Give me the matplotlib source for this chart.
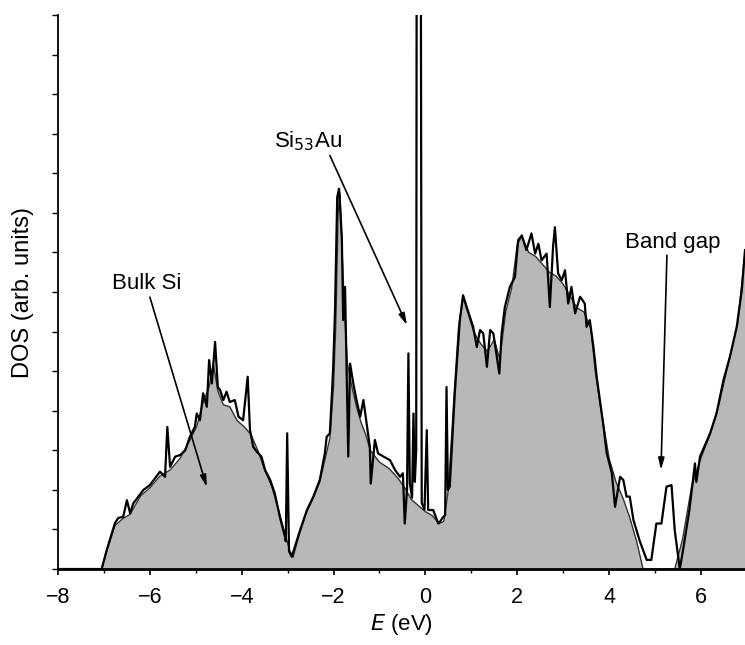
import matplotlib
matplotlib.use("Agg")
import matplotlib.pyplot as plt

plt.rcParams['font.family'] = ['Liberation Sans', 'DejaVu Sans']

# Bulk Si DOS (grey filled area)
bulk_e = [-8.0, -7.05, -6.94, -6.76, -6.58, -6.43, -6.2, -6.0, -5.78, -5.56,
          -5.34, -5.13, -4.98, -4.84, -4.71, -4.62, -4.52, -4.4, -4.26, -4.1,
          -3.95, -3.8, -3.65, -3.5, -3.35, -3.2, -3.06, -2.95, -2.88, -2.75,
          -2.6, -2.44, -2.3, -2.18, -2.08, -2.0, -1.95, -1.9, -1.86, -1.82,
          -1.76, -1.7, -1.6, -1.5, -1.4, -1.3, -1.2, -1.0, -0.8, -0.6,
          -0.45, -0.3, -0.15, 0.0, 0.15, 0.3, 0.4, 0.5, 0.62, 0.72,
          0.82, 0.92, 1.05, 1.2, 1.35, 1.5, 1.62, 1.75, 1.88, 2.0,
          2.1, 2.25, 2.4, 2.55, 2.7, 2.85, 3.0, 3.15, 3.3, 3.45,
          3.6, 3.7, 3.8, 3.9, 4.0, 4.15, 4.3, 4.45, 4.6, 4.74,
          5.43, 5.6, 5.8, 6.0, 6.2, 6.4, 6.6, 6.8, 6.96]
bulk_dos = [0.0, 0.0, 0.45, 1.1, 1.28, 1.38, 1.85, 2.05, 2.35, 2.5,
            2.8, 3.25, 3.6, 4.2, 4.6, 5.2, 4.5, 4.15, 4.1, 3.75,
            3.6, 3.4, 3.0, 2.5, 2.1, 1.5, 0.9, 0.45, 0.3, 0.85,
            1.4, 1.8, 2.2, 2.8, 3.3, 4.6, 6.2, 9.0, 9.5, 8.2,
            6.5, 5.2, 4.6, 4.1, 3.7, 3.4, 3.0, 2.7, 2.55, 2.3,
            2.05, 1.75, 1.6, 1.45, 1.35, 1.15, 1.2, 2.0, 4.3, 6.1,
            6.85, 6.5, 6.0, 5.7, 5.5, 5.8, 5.3, 6.5, 7.1, 8.2,
            8.4, 8.0, 7.9, 7.7, 7.5, 7.4, 7.2, 6.9, 6.6, 6.5,
            6.1, 5.0, 4.2, 3.5, 2.8, 2.2, 1.8, 1.3, 0.7, 0.0,
            0.0, 0.75, 2.1, 2.8, 3.4, 4.2, 5.2, 6.2, 8.0]

# Si53Au DOS (black line)
au_e = [-8.0, -7.05, -6.94, -6.76, -6.69, -6.58, -6.5, -6.43, -6.36, -6.14,
        -6.0, -5.78, -5.67, -5.62, -5.56, -5.45, -5.34, -5.23, -5.13, -5.02,
        -4.98, -4.91, -4.84, -4.76, -4.71, -4.65, -4.58, -4.52, -4.47, -4.4,
        -4.33, -4.26, -4.15, -4.07, -3.97, -3.87, -3.82, -3.75, -3.67, -3.57,
        -3.49, -3.38, -3.28, -3.17, -3.06, -3.04, -3.01, -2.97, -2.91, -2.73,
        -2.58, -2.44, -2.3, -2.19, -2.15, -2.08, -2.01, -1.97, -1.92, -1.88,
        -1.82, -1.79, -1.75, -1.68, -1.64, -1.57, -1.5, -1.42, -1.35, -1.28,
        -1.21, -1.19, -1.1, -1.03, -0.91, -0.77, -0.66, -0.55, -0.49, -0.45,
        -0.4, -0.37, -0.34, -0.29, -0.26, -0.23, -0.2, -0.19, -0.1, -0.08,
        -0.02, 0.03, 0.06, 0.17, 0.28, 0.32, 0.39, 0.43, 0.46, 0.49,
        0.53, 0.64, 0.75, 0.82, 0.9, 1.04, 1.12, 1.19, 1.26, 1.34,
        1.41, 1.48, 1.61, 1.66, 1.73, 1.84, 1.95, 2.02, 2.1, 2.2,
        2.31, 2.39, 2.46, 2.53, 2.64, 2.71, 2.78, 2.82, 2.89, 2.97,
        3.04, 3.11, 3.18, 3.26, 3.37, 3.47, 3.51, 3.58, 3.66, 3.73,
        3.87, 3.95, 4.06, 4.13, 4.24, 4.31, 4.38, 4.45, 4.53, 4.67,
        4.82, 4.92, 5.03, 5.14, 5.25, 5.36, 5.43, 5.54, 5.6, 5.75,
        5.87, 5.9, 5.98, 6.2, 6.34, 6.49, 6.63, 6.78, 6.89, 6.96]
au_dos = [0.0, 0.0, 0.48, 1.16, 1.29, 1.32, 1.74, 1.41, 1.66, 2.0,
          2.12, 2.46, 2.33, 3.59, 2.58, 2.84, 2.88, 3.0, 3.34, 3.59,
          3.93, 3.76, 4.44, 4.1, 5.28, 4.69, 5.74, 4.6, 4.52, 4.27,
          4.48, 4.22, 4.27, 3.85, 3.76, 4.86, 3.51, 3.09, 2.96, 2.84,
          2.5, 2.25, 1.91, 1.32, 0.82, 0.7, 3.43, 0.45, 0.31, 0.98,
          1.49, 1.83, 2.25, 2.92, 3.34, 3.43, 5.03, 6.46, 9.4, 9.61,
          8.39, 6.29, 7.13, 2.84, 5.19, 4.69, 4.27, 3.85, 4.27, 3.68,
          3.09, 2.16, 3.26, 2.92, 2.84, 2.75, 2.5, 2.33, 2.42, 1.15,
          2.0, 5.45, 2.17, 1.8, 3.93, 2.2, 3.0, 16.0, 16.0, 1.67,
          1.5, 3.51, 1.49, 1.49, 1.15, 1.2, 1.32, 1.36, 4.6, 2.0,
          2.08, 4.44, 6.29, 6.92, 6.62, 6.12, 5.61, 6.04, 5.95, 5.11,
          6.04, 5.95, 4.94, 5.95, 6.62, 7.13, 7.38, 8.31, 8.43, 8.06,
          8.48, 7.97, 8.22, 7.8, 7.97, 6.62, 8.14, 8.64, 7.47, 7.3,
          7.55, 6.71, 7.13, 6.46, 6.88, 6.71, 6.12, 6.29, 5.61, 4.86,
          3.68, 2.92, 2.42, 1.57, 2.33, 2.25, 1.83, 1.83, 1.24, 0.7,
          0.23, 0.23, 1.15, 1.15, 2.08, 2.12, 0.98, 0.0, 0.4, 1.5,
          2.67, 2.2, 2.84, 3.43, 3.93, 4.77, 5.36, 6.12, 7.05, 8.06]

x_ticks = [-8, -6, -4, -2, 0, 2, 4, 6]
x_tick_labels = ['\u22128', '\u22126', '\u22124', '\u22122', '0', '2', '4', '6']

fig = plt.figure(figsize=(7.45, 6.45), dpi=100)
ax = fig.add_axes([0.0779, 0.1178, 0.9221, 0.8589])

ax.fill_between(bulk_e, bulk_dos, 0, color='#b8b8b8', lw=0)
ax.plot(bulk_e, bulk_dos, color='#333333', lw=1.0)
ax.plot(au_e, au_dos, color='black', lw=1.6)

ax.set_xlim(-8, 6.96)
ax.set_ylim(0, 14)
ax.set_xticks(x_ticks)
ax.set_xticklabels(x_tick_labels)
ax.set_xticks(range(-7, 7, 2), minor=True)
ax.set_yticks(range(0, 15))
ax.set_yticklabels([])
ax.tick_params(axis='x', which='major', direction='out', length=4, width=1.2,
               labelsize=15.5, pad=9)
ax.tick_params(axis='x', which='minor', direction='out', length=3, width=1)
ax.tick_params(axis='y', direction='out', length=4, width=1)

for side in ['top', 'right']:
    ax.spines[side].set_visible(False)
ax.spines['bottom'].set_linewidth(2.0)
ax.spines['left'].set_linewidth(1.3)

ax.set_xlabel(r'$\it{E}$ (eV)', fontsize=16, labelpad=3)
ax.set_ylabel('DOS (arb. units)', fontsize=17, labelpad=10)

arrow = dict(arrowstyle='-|>,head_width=0.18,head_length=0.7', color='black',
             lw=1.2, shrinkA=0, shrinkB=0)
ax.annotate('', xy=(-4.76, 2.07), xytext=(-6.0, 6.87), arrowprops=arrow)
ax.text(-6.06, 7.22, 'Bulk Si', fontsize=16, ha='center', va='center')
ax.annotate('', xy=(-0.40, 6.16), xytext=(-2.08, 10.45), arrowprops=arrow)
ax.text(-2.56, 10.8, 'Si$_{53}$Au', fontsize=16, ha='center', va='center')
ax.annotate('', xy=(5.13, 2.5), xytext=(5.26, 7.93), arrowprops=arrow)
ax.text(5.39, 8.26, 'Band gap', fontsize=16, ha='center', va='center')

fig.savefig('out.png', dpi=100)
